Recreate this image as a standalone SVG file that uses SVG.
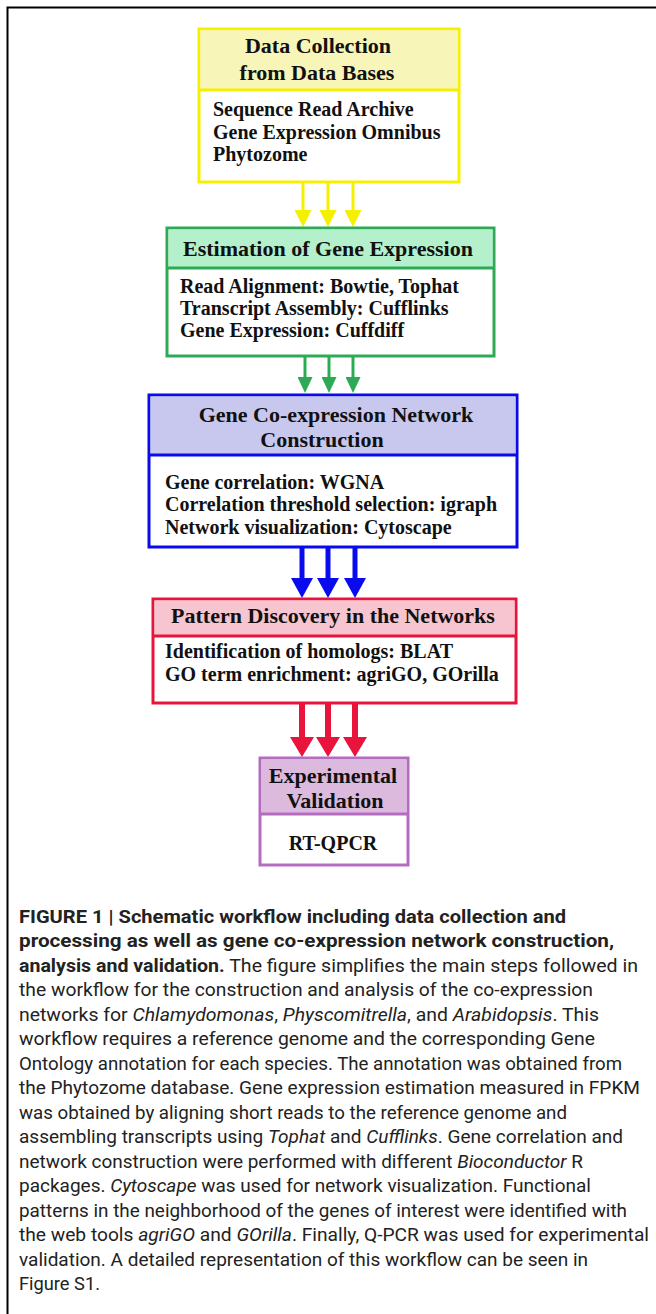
<svg xmlns="http://www.w3.org/2000/svg" width="656" height="1314" viewBox="0 0 656 1314">
<style>
.box{fill:#ffffff;stroke-width:3}
.hd{font-family:"Liberation Serif","Times New Roman",serif;font-weight:bold;font-size:22px;fill:#111;text-anchor:middle}
.bd{font-family:"Liberation Serif","Times New Roman",serif;font-weight:bold;font-size:20px;fill:#111}
.cap{font-family:Roboto,"Liberation Sans",sans-serif;font-size:19px;fill:#222}
.b{font-weight:bold}
.i{font-style:italic}
</style>
<defs>
<marker id="ay" markerUnits="userSpaceOnUse" markerWidth="17" markerHeight="17" viewBox="0 0 17 17" refX="1" refY="8.5" orient="auto"><path d="M0,0 L17,8.5 L0,17 z" fill="#f5f000"/></marker>
<marker id="ag" markerUnits="userSpaceOnUse" markerWidth="16" markerHeight="15" viewBox="0 0 16 15" refX="1" refY="7.5" orient="auto"><path d="M0,0 L16,7.5 L0,15 z" fill="#2eaa55"/></marker>
<marker id="ab" markerUnits="userSpaceOnUse" markerWidth="20" markerHeight="22" viewBox="0 0 20 22" refX="1" refY="11" orient="auto"><path d="M0,0 L20,11 L0,22 z" fill="#0a0aee"/></marker>
<marker id="ar" markerUnits="userSpaceOnUse" markerWidth="20" markerHeight="24" viewBox="0 0 20 24" refX="1" refY="12" orient="auto"><path d="M0,0 L20,12 L0,24 z" fill="#e8143c"/></marker>
</defs>
<rect width="656" height="1314" fill="#ffffff"/>
<path d="M7.5,1314 V7.5 H656" fill="none" stroke="#000" stroke-width="2"/>

<g id="connectors">
<g stroke="#f5f000" stroke-width="3" marker-end="url(#ay)">
<line x1="303" y1="182" x2="303" y2="211"/>
<line x1="328" y1="182" x2="328" y2="211"/>
<line x1="353" y1="182" x2="353" y2="211"/>
</g>
<g stroke="#2eaa55" stroke-width="3" marker-end="url(#ag)">
<line x1="305" y1="356" x2="305" y2="378"/>
<line x1="329" y1="356" x2="329" y2="378"/>
<line x1="353" y1="356" x2="353" y2="378"/>
</g>
<g stroke="#0a0aee" stroke-width="5" marker-end="url(#ab)">
<line x1="302" y1="547" x2="302" y2="579"/>
<line x1="328" y1="547" x2="328" y2="579"/>
<line x1="355" y1="547" x2="355" y2="579"/>
</g>
<g stroke="#e8143c" stroke-width="6" marker-end="url(#ar)">
<line x1="302" y1="703" x2="302" y2="738"/>
<line x1="328" y1="703" x2="328" y2="738"/>
<line x1="355" y1="703" x2="355" y2="738"/>
</g>
</g>

<g id="n1">
<rect class="box" x="199" y="29" width="260" height="153" stroke="#f5f000"/>
<rect x="200.5" y="30.5" width="257" height="59.5" fill="#f8f5b9"/>
<line x1="199" y1="90" x2="459" y2="90" stroke="#f5f000" stroke-width="3"/>
<text class="hd" x="318" y="53">Data Collection</text>
<text class="hd" x="317" y="80">from Data Bases</text>
<text class="bd" x="213" y="116">Sequence Read Archive</text>
<text class="bd" x="213" y="139">Gene Expression Omnibus</text>
<text class="bd" x="213" y="161">Phytozome</text>
</g>

<g id="n2">
<rect class="box" x="167" y="228" width="327" height="128" stroke="#2eaa55"/>
<rect x="168.5" y="229.5" width="324" height="38.5" fill="#b4f0cb"/>
<line x1="167" y1="268" x2="494" y2="268" stroke="#2eaa55" stroke-width="3"/>
<text class="hd" x="328" y="256">Estimation of Gene Expression</text>
<text class="bd" x="180" y="293">Read Alignment: Bowtie, Tophat</text>
<text class="bd" x="180" y="315">Transcript Assembly: Cufflinks</text>
<text class="bd" x="180" y="337">Gene Expression: Cuffdiff</text>
</g>

<g id="n3">
<rect class="box" x="149" y="395" width="368" height="152" stroke="#0a0aee"/>
<rect x="150.5" y="396.5" width="365" height="58.5" fill="#c8c8ef"/>
<line x1="149" y1="455" x2="517" y2="455" stroke="#0a0aee" stroke-width="3"/>
<text class="hd" x="336" y="422">Gene Co-expression Network</text>
<text class="hd" x="322" y="447">Construction</text>
<text class="bd" x="165" y="489">Gene correlation: WGNA</text>
<text class="bd" x="165" y="511">Correlation threshold selection: igraph</text>
<text class="bd" x="165" y="534">Network visualization: Cytoscape</text>
</g>

<g id="n4">
<rect class="box" x="153" y="599" width="363" height="104" stroke="#e8143c"/>
<rect x="154.5" y="600.5" width="360" height="35.5" fill="#f6c5cf"/>
<line x1="153" y1="636" x2="516" y2="636" stroke="#e8143c" stroke-width="3"/>
<text class="hd" x="333" y="623">Pattern Discovery in the Networks</text>
<text class="bd" x="165" y="658">Identification of homologs: BLAT</text>
<text class="bd" x="165" y="681">GO term enrichment: agriGO, GOrilla</text>
</g>

<g id="n5">
<rect class="box" x="260" y="758" width="148" height="107" stroke="#b46cc0"/>
<rect x="261.5" y="759.5" width="145" height="54.5" fill="#dcbade"/>
<line x1="260" y1="814" x2="408" y2="814" stroke="#b46cc0" stroke-width="3"/>
<text class="hd" x="333" y="783">Experimental</text>
<text class="hd" x="335" y="808">Validation</text>
<text class="bd" x="333" y="850" text-anchor="middle">RT-QPCR</text>
</g>

<g id="caption" class="cap">
<text x="19" y="922.5" textLength="547" lengthAdjust="spacingAndGlyphs" class="b">FIGURE 1 | Schematic workflow including data collection and</text>
<text x="19" y="947" textLength="595" lengthAdjust="spacingAndGlyphs" class="b">processing as well as gene co-expression network construction,</text>
<text x="19" y="971.5" textLength="619" lengthAdjust="spacingAndGlyphs"><tspan class="b">analysis and validation.</tspan> The figure simplifies the main steps followed in</text>
<text x="19" y="996" textLength="574" lengthAdjust="spacingAndGlyphs">the workflow for the construction and analysis of the co-expression</text>
<text x="19" y="1020.5" textLength="580" lengthAdjust="spacingAndGlyphs">networks for <tspan class="i">Chlamydomonas</tspan>, <tspan class="i">Physcomitrella</tspan>, and <tspan class="i">Arabidopsis</tspan>. This</text>
<text x="19" y="1045" textLength="576" lengthAdjust="spacingAndGlyphs">workflow requires a reference genome and the corresponding Gene</text>
<text x="19" y="1069.5" textLength="603" lengthAdjust="spacingAndGlyphs">Ontology annotation for each species. The annotation was obtained from</text>
<text x="19" y="1094" textLength="621" lengthAdjust="spacingAndGlyphs">the Phytozome database. Gene expression estimation measured in FPKM</text>
<text x="19" y="1118.5" textLength="548" lengthAdjust="spacingAndGlyphs">was obtained by aligning short reads to the reference genome and</text>
<text x="19" y="1143" textLength="604" lengthAdjust="spacingAndGlyphs">assembling transcripts using <tspan class="i">Tophat</tspan> and <tspan class="i">Cufflinks</tspan>. Gene correlation and</text>
<text x="19" y="1167.5" textLength="564" lengthAdjust="spacingAndGlyphs">network construction were performed with different <tspan class="i">Bioconductor</tspan> R</text>
<text x="19" y="1192" textLength="572" lengthAdjust="spacingAndGlyphs">packages. <tspan class="i">Cytoscape</tspan> was used for network visualization. Functional</text>
<text x="19" y="1216.5" textLength="608" lengthAdjust="spacingAndGlyphs">patterns in the neighborhood of the genes of interest were identified with</text>
<text x="19" y="1241" textLength="630" lengthAdjust="spacingAndGlyphs">the web tools <tspan class="i">agriGO</tspan> and <tspan class="i">GOrilla</tspan>. Finally, Q-PCR was used for experimental</text>
<text x="19" y="1265.5" textLength="569" lengthAdjust="spacingAndGlyphs">validation. A detailed representation of this workflow can be seen in</text>
<text x="19" y="1290" textLength="81" lengthAdjust="spacingAndGlyphs">Figure S1.</text>
</g>
</svg>
